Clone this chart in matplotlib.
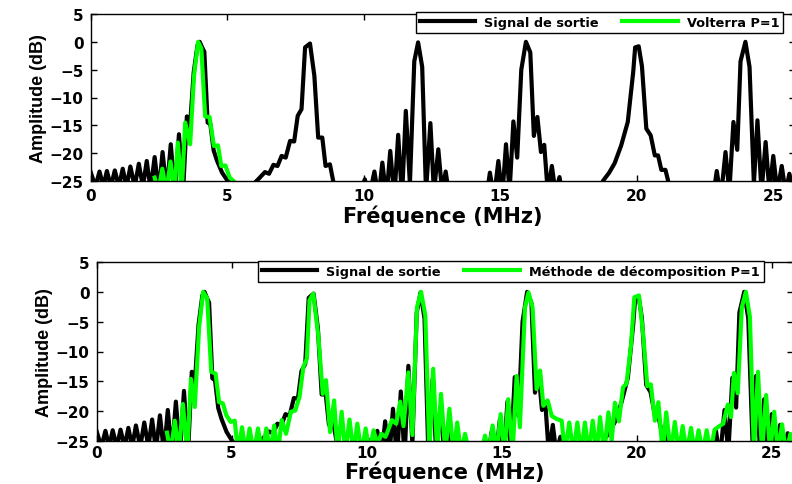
import numpy as np
import matplotlib
matplotlib.use("Agg")
import matplotlib.pyplot as plt

plt.rcParams["font.family"] = "DejaVu Sans"
plt.rcParams["font.weight"] = "bold"

# ── data (MHz, dB); values below -25 dB are clipped ──
sig_f = [0.0, 0.18, 0.33, 0.47, 0.6, 0.75, 0.89, 1.04, 1.18, 1.32, 1.46, 1.62, 1.77, 1.92,
         2.06, 2.2, 2.35, 2.5, 2.64, 2.79, 2.94, 3.09, 3.24, 3.39, 3.53, 3.64, 3.78, 3.92,
         4.0, 4.08, 4.17, 4.29, 4.39, 4.51, 4.63, 4.82, 5.0, 5.2, 5.6, 5.9, 6.04, 6.2, 6.39,
         6.54, 6.7, 6.85, 7.0, 7.15, 7.31, 7.46, 7.59, 7.73, 7.86, 8.04, 8.2, 8.34, 8.49,
         8.61, 8.77, 8.89, 9.1, 9.8, 10.05, 10.2, 10.4, 10.55, 10.69, 10.84, 10.98, 11.13,
         11.27, 11.41, 11.55, 11.7, 11.86, 12.0, 12.15, 12.29, 12.45, 12.58, 12.74, 12.88,
         13.01, 13.15, 14.5, 14.63, 14.78, 14.94, 15.08, 15.22, 15.35, 15.49, 15.63, 15.78,
         15.95, 16.11, 16.24, 16.37, 16.5, 16.62, 16.75, 16.9, 17.03, 17.18, 17.3, 18.6,
         18.77, 19.0, 19.2, 19.44, 19.68, 19.88, 19.95, 20.08, 20.2, 20.36, 20.52, 20.67,
         20.79, 20.91, 21.06, 21.16, 21.3, 22.8, 22.94, 23.09, 23.26, 23.4, 23.55, 23.69,
         23.81, 23.99, 24.14, 24.3, 24.43, 24.58, 24.73, 24.87, 25.01, 25.16, 25.32, 25.46,
         25.6, 25.75, 25.9]
sig_db = [-23.3, -26, -23.3, -26, -23.2, -26, -23.1, -26, -22.8, -26, -22.4, -26, -21.9, -26,
          -21.4, -26.5, -20.7, -27, -19.8, -27, -18.4, -27, -16.6, -27, -13.4, -15.5, -5.5, -0.6,
          0.0, -0.9, -1.8, -14.5, -14.8, -19.5, -21.3, -23.5, -24.8, -26, -28, -26.5, -25.2, -24.4, -23.4,
          -23.7, -22.1, -22.3, -20.5, -20.8, -17.8, -17.9, -13.3, -12.1, -1.0, -0.3, -6.1, -17.2, -17.2,
          -22.3, -22.0, -25.0, -28, -28, -24.7, -28, -23.3, -28, -21.7, -28, -19.6, -28,
          -16.7, -28, -12.4, -25.5, -3.5, -0.1, -4.5, -27, -14.6, -27, -19.3, -27,
          -23.3, -28, -28, -23.5, -28, -21.4, -28, -18.4, -27, -14.3, -20.8, -5.0,
          0.0, -1.9, -16.9, -13.5, -19.8, -18.5, -27, -22.3, -27, -24.3, -28, -28,
          -25.0, -23.5, -21.8, -18.6, -14.4, -5.4, -1.0, -0.8, -4.4, -15.6, -16.8, -20.4,
          -20.4, -23.0, -23.0, -25.0, -28, -28, -23.2, -28, -19.8, -27, -14.4, -19.4,
          -3.5, 0.0, -4.5, -25.5, -14.1, -27, -18.0, -27, -20.5, -27, -22.3, -27,
          -23.7, -27, -25]

volt_f = [2.35, 2.48, 2.63, 2.78, 2.93, 3.07, 3.2, 3.34, 3.47, 3.65, 3.79, 3.94, 4.06, 4.2,
          4.36, 4.52, 4.67, 4.79, 4.94, 5.1, 5.28, 5.4]
volt_db = [-24.4, -27, -22.8, -27, -21.5, -27, -18.1, -27, -14.5, -18.4, -6.2, 0.0, -1.2, -13.4,
           -13.5, -18.7, -18.6, -22.3, -22.2, -24.4, -25.2, -26]

dec_f = [2.61, 2.75, 2.9, 3.05, 3.2, 3.36, 3.5, 3.64, 3.8, 3.95, 4.1, 4.25, 4.41, 4.54, 4.68,
         4.81, 4.97, 5.12, 5.24, 5.39, 5.53, 5.67, 5.83, 5.98, 6.14, 6.29, 6.44, 6.58, 6.72,
         6.86, 7.02, 7.2, 7.36, 7.52, 7.66, 7.79, 7.89, 8.03, 8.22, 8.38, 8.5, 8.65, 8.8,
         8.93, 9.08, 9.22, 9.37, 9.52, 9.66, 9.82, 9.97, 10.11, 10.26, 10.4, 10.55, 10.7,
         10.8, 10.94, 11.1, 11.25, 11.37, 11.55, 11.7, 11.87, 12.02, 12.18, 12.33, 12.47,
         12.62, 12.76, 12.92, 13.07, 13.22, 13.36, 13.5, 13.65, 13.8, 14.2, 14.39, 14.53,
         14.67, 14.82, 14.97, 15.11, 15.25, 15.41, 15.56, 15.68, 15.87, 16.0, 16.15, 16.3,
         16.43, 16.55, 16.71, 16.86, 17.04, 17.23, 17.35, 17.51, 17.66, 17.81, 17.95, 18.09,
         18.23, 18.38, 18.52, 18.65, 18.8, 18.96, 19.08, 19.2, 19.35, 19.5, 19.63, 19.8,
         19.92, 20.09, 20.24, 20.4, 20.53, 20.68, 20.81, 20.97, 21.1, 21.27, 21.42, 21.57,
         21.71, 21.86, 22.02, 22.15, 22.3, 22.45, 22.6, 22.74, 22.89, 23.04, 23.21, 23.38,
         23.5, 23.61, 23.75, 23.9, 24.05, 24.2, 24.35, 24.5, 24.65, 24.8, 24.95, 25.1,
         25.24, 25.39, 25.54, 25.7, 25.85]
dec_db = [-23.6, -27, -21.6, -27, -18.8, -27, -14.6, -19.3, -5.9, 0.0, -1.1, -13.4, -13.7, -18.5, -18.7,
          -20.7, -21.8, -21.6, -27, -22.7, -27, -22.9, -27, -22.9, -27, -22.9, -27, -22.4, -27,
          -21.5, -23.8, -20.1, -19.9, -17.6, -12.6, -11.2, -1.4, -0.3, -7.6, -17.1, -14.8, -23.5, -18.2,
          -27, -20.1, -27, -21.4, -27, -22.1, -27, -22.9, -27, -23.2, -25.5, -23.8, -24.3,
          -23.2, -21.5, -22.1, -18.4, -22.5, -13.5, -24, -2.6, 0.0, -4.0, -27, -12.9,
          -27, -17.1, -27, -19.6, -27, -21.9, -27, -23.8, -27, -28, -24.1, -27,
          -22.4, -27, -20.5, -27, -18.0, -27, -14.1, -22.7, -2.6, -0.1, -2.6, -16.3,
          -13.2, -19.1, -18.2, -20.8, -21.3, -21.6, -27, -21.9, -27, -21.9, -27, -21.9,
          -27, -21.6, -27, -21.0, -27, -20.2, -25, -18.6, -21.7, -16.0, -15.4, -8.8,
          -0.9, -0.6, -6.8, -15.8, -15.5, -21.6, -18.5, -27, -20.2, -27, -21.8, -27,
          -22.5, -27, -22.8, -27, -23.2, -27, -23.2, -27, -23.1, -22.6, -22.1, -18.9,
          -21.0, -13.6, -17.0, -2.6, 0.0, -4.2, -27, -13.4, -27, -17.3, -27, -20.1,
          -27, -22.2, -27, -23.8, -27]

xticks = [0, 5, 10, 15, 20, 25]
yticks = [-25, -20, -15, -10, -5, 0, 5]

W, H = 792, 485
fig = plt.figure(figsize=(W / 100, H / 100), dpi=100)


def style(ax, xpad, lpad):
    ax.set_xlim(0, 25.8)
    ax.set_ylim(-25, 5)
    ax.set_xticks(xticks)
    ax.set_yticks(yticks)
    ax.tick_params(direction="in", length=4, width=1, top=True, right=True,
                   labelsize=11, pad=5)
    ax.tick_params(axis="x", pad=xpad)
    for lbl in ax.get_xticklabels() + ax.get_yticklabels():
        lbl.set_fontweight("bold")
    for s in ax.spines.values():
        s.set_linewidth(1.0)
    ax.set_xlabel("Fréquence (MHz)", fontsize=15, fontweight="bold", labelpad=lpad)
    ax.set_ylabel("Amplitude (dB)", fontsize=13, fontweight="bold",
                  family="Liberation Sans", labelpad=2)


def add_legend(ax, x0, y0):
    leg = ax.legend(loc="upper left", bbox_to_anchor=(x0 / W, 1 - y0 / H),
                    bbox_transform=fig.transFigure, ncol=2, fontsize=9.3,
                    handlelength=4.3, handletextpad=0.7, columnspacing=1.8,
                    borderpad=0.3, borderaxespad=0, fancybox=False,
                    framealpha=1, edgecolor="black")
    leg.get_frame().set_linewidth(1.0)
    for t in leg.get_texts():
        t.set_fontweight("bold")


# top: output signal vs Volterra P=1
ax1 = fig.add_axes([90.5 / W, 1 - 182 / H, 25.8 * 27.3 / W, 167 / H])
ax1.plot(sig_f, sig_db, color="black", lw=3.0, label="Signal de sortie")
ax1.plot(volt_f, volt_db, color="#00ff00", lw=3.0, label="Volterra P=1")
style(ax1, 5, 1)
add_legend(ax1, 416, 13)

# bottom: output signal vs decomposition method P=1
ax2 = fig.add_axes([96.5 / W, 1 - 442 / H, 25.8 * 27.0 / W, 179 / H])
ax2.plot(sig_f, sig_db, color="black", lw=3.0, label="Signal de sortie")
ax2.plot(dec_f, dec_db, color="#00ff00", lw=3.0, label="Méthode de décomposition P=1")
style(ax2, 3, 0)
add_legend(ax2, 258, 262)

fig.savefig("out.png", dpi=100)
